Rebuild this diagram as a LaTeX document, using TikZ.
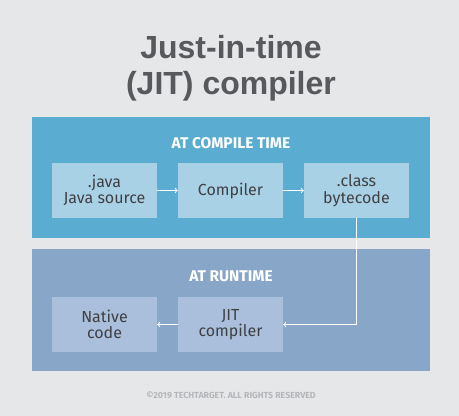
\documentclass[tikz,border=0pt]{standalone}
\usepackage{fontspec}
\setmainfont{Fira Sans}
\newfontfamily\titlefont{Liberation Sans}
\usepackage{tikz}
\usetikzlibrary{positioning,arrows}

\definecolor{bggrey}{HTML}{E6E7E9}
\definecolor{titlegrey}{HTML}{58595C}
\definecolor{compileblue}{HTML}{5AADD0}
\definecolor{compilebox}{HTML}{A8D1E6}
\definecolor{runblue}{HTML}{88A6C8}
\definecolor{runbox}{HTML}{A9BFDB}
\definecolor{boxtext}{HTML}{3F4043}
\definecolor{notegrey}{HTML}{B5B6B9}

\begin{document}
\begin{tikzpicture}[x=1pt, y=-1pt, >=to,
    panel/.style={minimum width=398pt, minimum height=121pt, inner sep=0pt},
    stage/.style={minimum width=105pt, minimum height=55pt, inner sep=0pt,
        align=center, text=boxtext, font=\fontsize{16}{16.5}\selectfont},
    heading/.style={text=white, font=\bfseries\fontsize{15.5}{17}\selectfont},
    flow/.style={->, draw=white, line width=1pt}]

    % background
    \fill [bggrey] (0,0) rectangle (459,416);

    % title
    \node [text=titlegrey, align=center, font=\titlefont\bfseries\fontsize{32}{36}\selectfont]
        (title) at (231,68) {Just-in-time\\(JIT) compiler};

    % panels
    \node [panel, fill=compileblue] (compile) at (231,177.5) {};
    \node [panel, fill=runblue, minimum height=122pt] (runtime) at (231,310) {};

    % headings
    \node [heading] (compile-head) at (231,143) {AT COMPILE TIME};
    \node [heading] (runtime-head) at (231,276) {AT RUNTIME};

    % compile time stages
    \foreach \n/\l [count=\x] in {source/{.java\\Java source}, compiler/Compiler, bytecode/{.class\\bytecode}}
        \node [stage, fill=compilebox] (\n) at (104.5+126*\x-126,190.5) {\l};

    % runtime stages
    \foreach \n/\l [count=\x] in {native/{Native\\code}, jit/{JIT\\compiler}}
        \node [stage, fill=runbox] (\n) at (104.5+126*\x-126,324.5) {\l};

    % arrows
    \draw [flow] (source) -- (compiler);
    \draw [flow] (compiler) -- (bytecode);
    \draw [flow] (bytecode.south) |- (jit.east);
    \draw [flow] (jit) -- (native);

    % footer
    \node [text=notegrey, font=\bfseries\fontsize{8.8}{10}\selectfont] (footer) at (231,395)
        {\textcopyright2019 TECHTARGET. ALL RIGHTS RESERVED};

\end{tikzpicture}
\end{document}
